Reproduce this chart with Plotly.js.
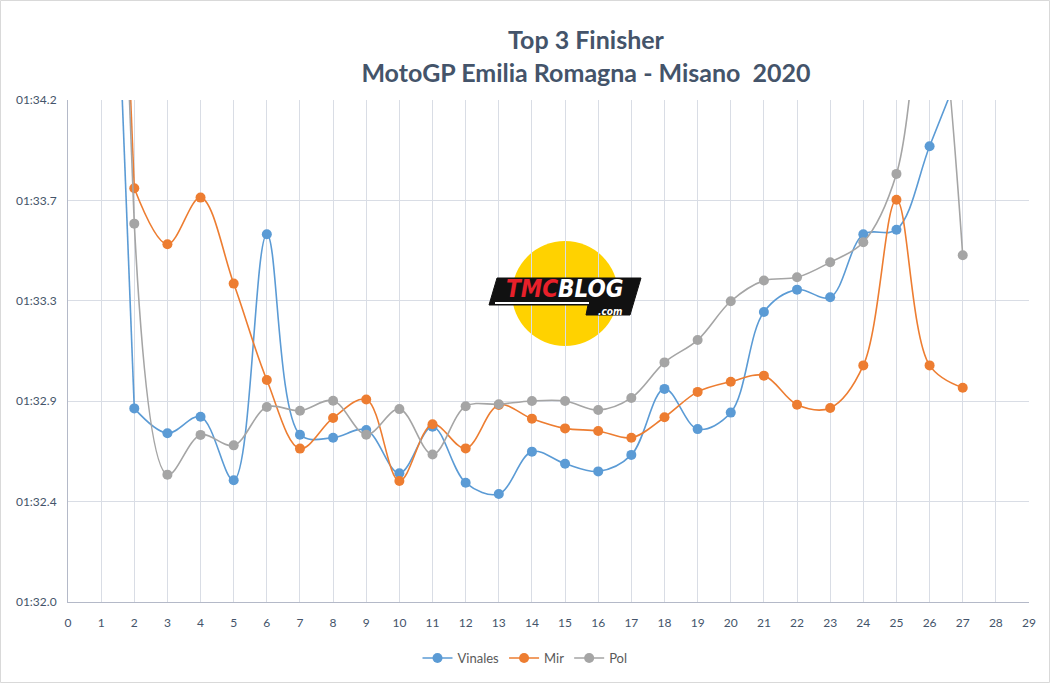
<!DOCTYPE html>
<html>
<head>
<meta charset="utf-8">
<script src="https://cdn.plot.ly/plotly-3.0.1.min.js"></script>
<style>html,body{margin:0;padding:0;background:#fff;}#chart{width:1050px;height:683px;}</style>
</head>
<body>
<div id="chart"></div>
<script>
// Lap numbers
const laps = [1,2,3,4,5,6,7,8,9,10,11,12,13,14,15,16,17,18,19,20,21,22,23,24,25,26,27];
// Lap times in seconds (1:32.0 = 92.0); lap 1 is off the top of the chart
const vinales = [96.5,92.833,92.726,92.797,92.524,93.582,92.720,92.707,92.740,92.554,92.754,92.513,92.465,92.647,92.595,92.562,92.633,92.917,92.744,92.815,93.248,93.344,93.311,93.582,93.602,93.961,94.32];
const mir     = [97.3,93.780,93.539,93.740,93.370,92.955,92.660,92.792,92.871,92.521,92.765,92.661,92.848,92.789,92.747,92.736,92.707,92.795,92.904,92.948,92.974,92.849,92.835,93.018,93.731,93.018,92.922];
const pol     = [97.3,93.628,92.548,92.719,92.674,92.839,92.823,92.866,92.720,92.830,92.635,92.842,92.851,92.865,92.865,92.826,92.878,93.031,93.127,93.294,93.383,93.397,93.462,93.548,93.842,94.8,93.492];
const seriesNames = ['Vinales','Mir','Pol'];
const yTickVals  = [92.0,92.432,92.864,93.296,93.728,94.16];
const yTickText  = ['01:32.0','01:32.4','01:32.9','01:33.3','01:33.7','01:34.2'];
const xTickVals  = [0,1,2,3,4,5,6,7,8,9,10,11,12,13,14,15,16,17,18,19,20,21,22,23,24,25,26,27,28,29];

const colors = ['#5B9BD5','#ED7D31','#A5A5A5'];
const data = [];
[vinales, mir, pol].forEach((ys,i)=>{
  // opening lap segment (steep drop from lap 1 to lap 2)
  data.push({x: laps.slice(0,2), y: ys.slice(0,2), type:'scatter', mode:'lines', showlegend:false, hoverinfo:'skip',
    line:{color:colors[i], width:1.6}});
  data.push({x: laps.slice(1), y: ys.slice(1), name: seriesNames[i], type:'scatter', mode:'lines+markers',
    line:{color:colors[i], width:1.6, shape:'spline', smoothing:1},
    marker:{color:colors[i], size:10}});
});

// pixel -> paper helpers for decorative logo
const L=68, R=1029, T=100, B=602;
const px = v => (v-L)/(R-L);
const py = v => (B-v)/(B-T);

const layout = {
  width:1050, height:683,
  margin:{l:L, r:1050-R, t:T, b:683-B},
  paper_bgcolor:'#fff', plot_bgcolor:'#fff',
  title:{
    text:'Top 3 Finisher<br>MotoGP Emilia Romagna - Misano\u00a0\u00a02020',
    font:{family:'Lato, Open Sans, sans-serif', size:25, color:'#44546A', weight:'bold'},
    x:586/1050, xref:'container', xanchor:'center',
    y:1-49/683, yref:'container', yanchor:'middle'
  },
  showlegend:true,
  legend:{orientation:'h', xref:'container', x:0.5, xanchor:'center', yref:'container', y:1-658/683, yanchor:'middle',
    font:{family:'Lato, Open Sans, sans-serif', size:13, color:'#595959'}, itemwidth:30},
  xaxis:{range:[0,29], tickvals:xTickVals, showgrid:true, gridcolor:'#D9DDE5', gridwidth:1,
    showline:true, linecolor:'#B4B9C8', linewidth:1, zeroline:false, ticks:'', ticklabelstandoff:10,
    tickfont:{family:'Lato, Open Sans, sans-serif', size:12, color:'#44546A'}},
  yaxis:{range:[92.0,94.16], tickvals:yTickVals, ticktext:yTickText, showgrid:true, gridcolor:'#D9DDE5', gridwidth:1,
    showline:true, linecolor:'#B4B9C8', linewidth:1, zeroline:false, ticks:'', ticklabelstandoff:8,
    tickfont:{family:'Lato, Open Sans, sans-serif', size:12, color:'#44546A'}},
  shapes:[
    {type:'rect', xref:'paper', yref:'paper', x0:px(0.5), x1:px(1049.5), y0:py(682.5), y1:py(0.5), line:{color:'#D9D9D9', width:1}, fillcolor:'rgba(0,0,0,0)', layer:'above'},
    {type:'circle', xref:'paper', yref:'paper', x0:px(512), x1:px(618), y0:py(346), y1:py(241), fillcolor:'#FFD200', line:{width:0}, layer:'between'},
    {type:'path', xref:'paper', yref:'paper', layer:'above', fillcolor:'#111', line:{color:'#111', width:1},
      path:`M ${px(497)},${py(278)} L ${px(641)},${py(278)} L ${px(630)},${py(315)} L ${px(586)},${py(315)} L ${px(588)},${py(305)} L ${px(489)},${py(305)} Z`},
    {type:'line', xref:'paper', yref:'paper', layer:'above', x0:px(495), x1:px(589), y0:py(303), y1:py(303), line:{color:'#fff', width:2}}
  ],
  annotations:[
    {xref:'paper', yref:'paper', x:px(565), y:py(289), xanchor:'center', yanchor:'middle', showarrow:false,
      text:'<b><i><span style="color:#E8202A">TMC</span>BLOG</i></b>',
      font:{family:'DejaVu Sans Condensed, DejaVu Sans, sans-serif', size:24, color:'#ffffff'}},
    {xref:'paper', yref:'paper', x:px(610), y:py(311), xanchor:'center', yanchor:'middle', showarrow:false,
      text:'<b><i>.com</i></b>', font:{family:'DejaVu Sans Condensed, DejaVu Sans, sans-serif', size:10, color:'#ffffff'}}
  ]
};
Plotly.newPlot('chart', data, layout, {displayModeBar:false, staticPlot:true});
</script>
</body>
</html>
